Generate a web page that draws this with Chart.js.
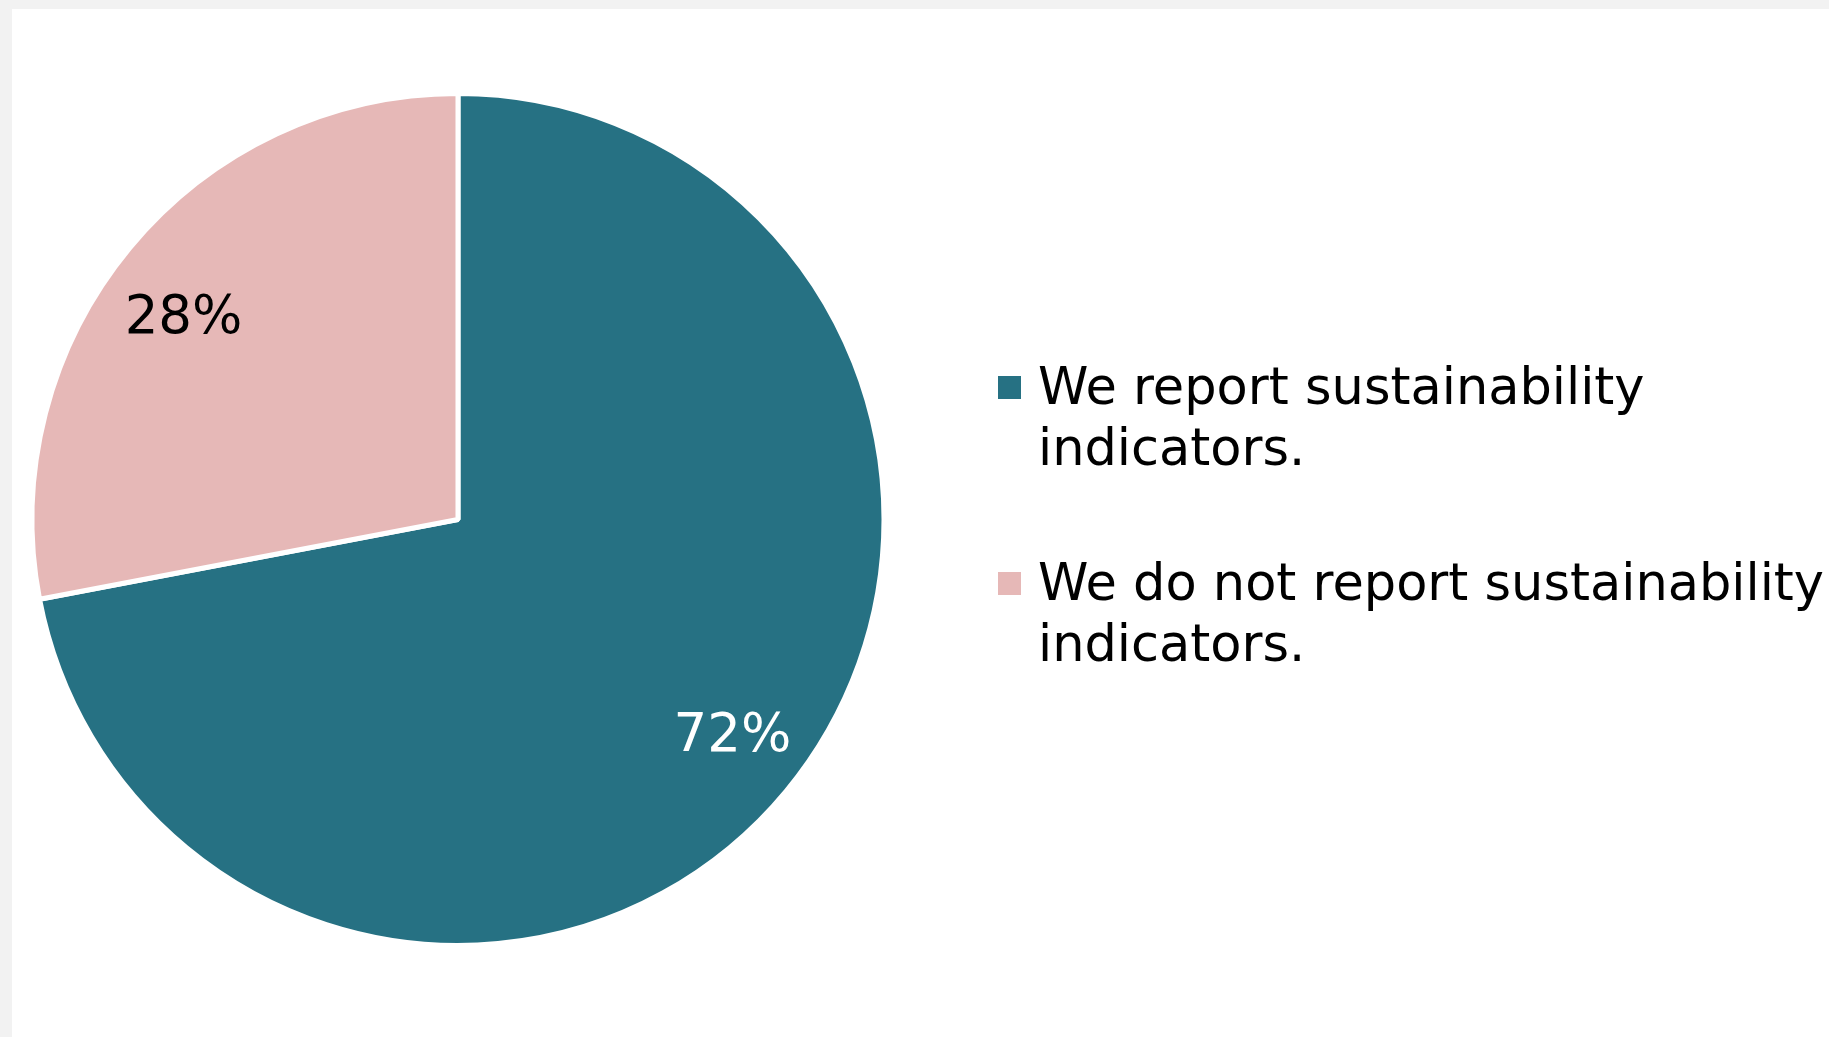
<!DOCTYPE html>
<html>
<head>
<meta charset="utf-8">
<script src="https://cdn.jsdelivr.net/npm/chart.js@4.4.1/dist/chart.umd.min.js"></script>
<style>
    html, body {
        margin: 0;
        padding: 0;
        width: 1829px;
        height: 1037px;
        background: #f2f2f2;
        overflow: hidden;
    }
    .panel {
        position: absolute;
        left: 12px;
        top: 9px;
        width: 1817px;
        height: 1028px;
        background: #ffffff;
    }
</style>
</head>
<body>
<div class="panel">
    <canvas id="pieChart" width="1817" height="1028"></canvas>
</div>
<script>
// Survey answers (each label split into its legend lines)
const categories = [
    ['We report sustainability', 'indicators.'],
    ['We do not report sustainability', 'indicators.']
];
const shares = [72, 28];
const sliceColors = ['#267183', '#e6b8b7'];
const valueLabelColors = ['#ffffff', '#000000'];

const FONT = '"DejaVu Sans", Verdana, sans-serif';

// Percentage labels inside the slices
const sliceLabels = {
    id: 'sliceLabels',
    afterDatasetsDraw(chart) {
        const ctx = chart.ctx;
        const meta = chart.getDatasetMeta(0);
        ctx.save();
        ctx.font = '53px ' + FONT;
        ctx.textAlign = 'center';
        ctx.textBaseline = 'middle';
        meta.data.forEach((arc, i) => {
            const p = arc.getProps(['x', 'y', 'startAngle', 'endAngle', 'outerRadius'], true);
            // nudge a little counter-clockwise, like the office "best fit" placement
            const mid = (p.startAngle + p.endAngle) / 2 - 0.04;
            const r = p.outerRadius * 0.81;
            ctx.fillStyle = valueLabelColors[i];
            ctx.fillText(shares[i] + '%', p.x + Math.cos(mid) * r, p.y + Math.sin(mid) * r + 9);
        });
        ctx.restore();
    }
};

// Legend on the right, wrapped over two lines per entry
const sideLegend = {
    id: 'sideLegend',
    afterDraw(chart) {
        const ctx = chart.ctx;
        const boxX = 986, boxSize = 23, textX = 1026;
        const firstBaseline = 395, lineGap = 61, itemGap = 196;
        ctx.save();
        ctx.font = '51px ' + FONT;
        ctx.textBaseline = 'alphabetic';
        ctx.textAlign = 'left';
        categories.forEach((lines, i) => {
            const base = firstBaseline + i * itemGap;
            ctx.fillStyle = sliceColors[i];
            ctx.fillRect(boxX, base - 28, boxSize, boxSize);
            ctx.fillStyle = '#000000';
            lines.forEach((line, j) => {
                ctx.fillText(line, textX, base + j * lineGap);
            });
        });
        ctx.restore();
    }
};

new Chart(document.getElementById('pieChart'), {
    type: 'pie',
    data: {
        labels: categories.map(c => c.join(' ')),
        datasets: [{
            data: shares,
            backgroundColor: sliceColors,
            borderColor: '#ffffff',
            borderWidth: 5,
            hoverOffset: 0,
            offset: 0
        }]
    },
    options: {
        responsive: false,
        animation: false,
        layout: {
            padding: { left: 16, top: 82, bottom: 89, right: 941 }
        },
        plugins: {
            legend: { display: false },
            tooltip: { enabled: false }
        }
    },
    plugins: [sliceLabels, sideLegend]
});
</script>
</body>
</html>
